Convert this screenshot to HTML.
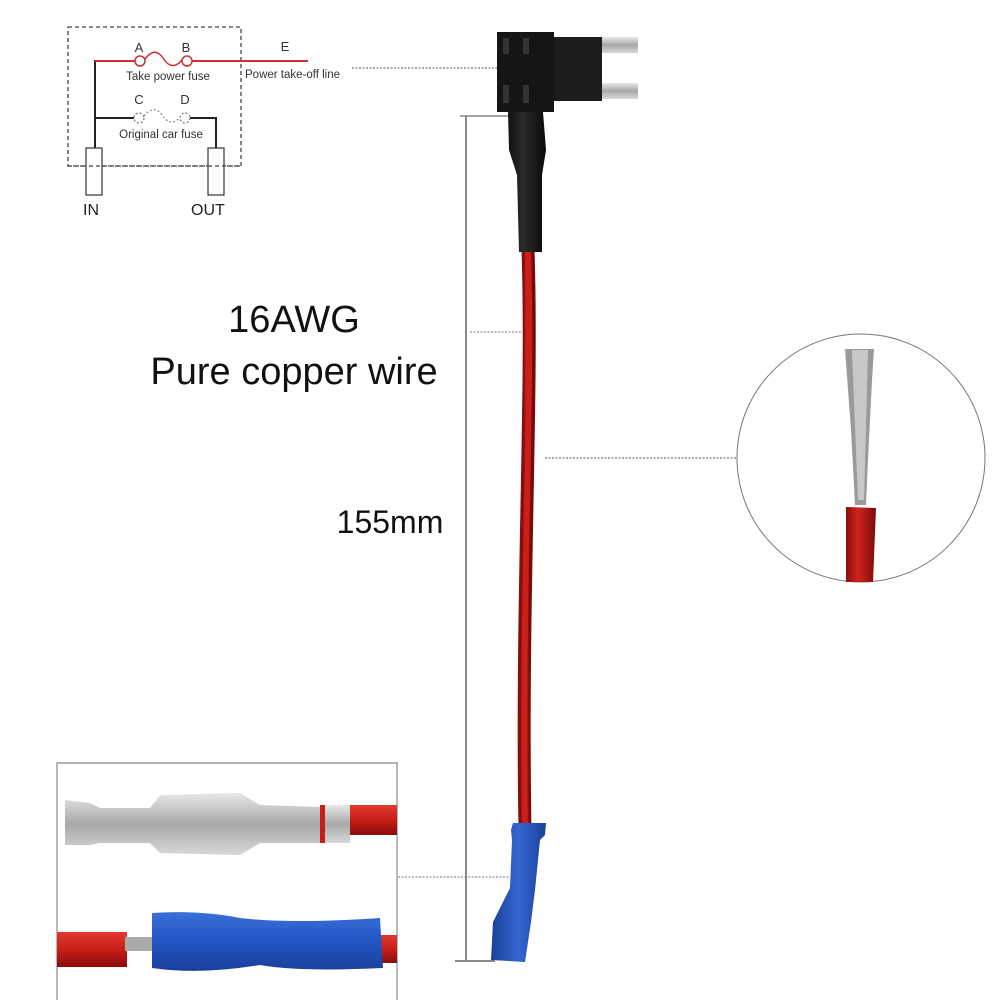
<!DOCTYPE html>
<html><head><meta charset="utf-8"><style>
html,body{margin:0;padding:0;background:#fff;}
svg{display:block;font-family:"Liberation Sans",sans-serif;}
</style></head><body>
<svg width="1000" height="1000" viewBox="0 0 1000 1000" xmlns="http://www.w3.org/2000/svg">
<defs>
<linearGradient id="blk" x1="0" x2="1"><stop offset="0" stop-color="#111"/><stop offset="0.4" stop-color="#2a2a2a"/><stop offset="1" stop-color="#0a0a0a"/></linearGradient>
<linearGradient id="red" x1="0" x2="1"><stop offset="0" stop-color="#8a0d0d"/><stop offset="0.4" stop-color="#d0231c"/><stop offset="1" stop-color="#7a0a0a"/></linearGradient>
<linearGradient id="silv" x1="0" y1="0" x2="0" y2="1"><stop offset="0" stop-color="#e8e8e8"/><stop offset="0.5" stop-color="#a8a8a8"/><stop offset="1" stop-color="#d8d8d8"/></linearGradient>
<linearGradient id="blu" x1="0" y1="0" x2="0" y2="1"><stop offset="0" stop-color="#3a6fd8"/><stop offset="0.5" stop-color="#2456c4"/><stop offset="1" stop-color="#1a3f9a"/></linearGradient>
<linearGradient id="bluv" x1="0" x2="1"><stop offset="0" stop-color="#1a3f9a"/><stop offset="0.5" stop-color="#3466d0"/><stop offset="1" stop-color="#1a3f9a"/></linearGradient>
<linearGradient id="redh" x1="0" y1="0" x2="0" y2="1"><stop offset="0" stop-color="#e03a30"/><stop offset="0.5" stop-color="#c81e18"/><stop offset="1" stop-color="#8a0d0d"/></linearGradient>
</defs>

<!-- schematic -->
<rect x="68" y="27" width="173" height="139" fill="none" stroke="#444" stroke-width="1.3" stroke-dasharray="4,3"/>
<polyline points="95,148 95,61 135,61" fill="none" stroke="#222" stroke-width="2"/>
<line x1="95" y1="61" x2="135" y2="61" stroke="#d03030" stroke-width="2"/>
<circle cx="140" cy="61" r="5" fill="#fff" stroke="#d03030" stroke-width="1.5"/>
<path d="M145,59 Q155,46 163,58 Q172,72 182,60" fill="none" stroke="#d03030" stroke-width="1.5"/>
<circle cx="187" cy="61" r="5" fill="#fff" stroke="#d03030" stroke-width="1.5"/>
<line x1="192" y1="61" x2="308" y2="61" stroke="#d03030" stroke-width="2"/>
<text x="139" y="52" font-size="13" text-anchor="middle" fill="#333">A</text>
<text x="186" y="52" font-size="13" text-anchor="middle" fill="#333">B</text>
<text x="285" y="51" font-size="13" text-anchor="middle" fill="#333">E</text>
<text x="168" y="80" font-size="11.5" text-anchor="middle" fill="#333">Take power fuse</text>
<text x="245" y="78" font-size="11.5" fill="#333">Power take-off line</text>
<line x1="95" y1="118" x2="134" y2="118" stroke="#222" stroke-width="2"/>
<circle cx="139" cy="118" r="5" fill="#fff" stroke="#777" stroke-width="1.2" stroke-dasharray="2,2"/>
<path d="M144,116 Q154,104 162,115 Q171,128 180,117" fill="none" stroke="#888" stroke-width="1.2" stroke-dasharray="2,2"/>
<circle cx="185" cy="118" r="5" fill="#fff" stroke="#777" stroke-width="1.2" stroke-dasharray="2,2"/>
<polyline points="190,118 216,118 216,148" fill="none" stroke="#222" stroke-width="2"/>
<text x="139" y="104" font-size="13" text-anchor="middle" fill="#333">C</text>
<text x="185" y="104" font-size="13" text-anchor="middle" fill="#333">D</text>
<text x="161" y="138" font-size="11.5" text-anchor="middle" fill="#333">Original car fuse</text>
<rect x="86" y="148" width="16" height="47" fill="#fff" stroke="#333" stroke-width="1.2"/>
<rect x="208" y="148" width="16" height="47" fill="#fff" stroke="#333" stroke-width="1.2"/>
<line x1="68" y1="166" x2="241" y2="166" stroke="#444" stroke-width="1.3" stroke-dasharray="4,3"/>
<text x="83" y="215" font-size="16" fill="#222">IN</text>
<text x="191" y="215" font-size="16" fill="#222">OUT</text>

<!-- dotted leaders -->
<line x1="352" y1="68" x2="497" y2="68" stroke="#555" stroke-width="1" stroke-dasharray="2,1.5"/>
<line x1="470" y1="332" x2="524" y2="332" stroke="#777" stroke-width="1" stroke-dasharray="2,1.5"/>
<line x1="545" y1="458" x2="737" y2="458" stroke="#555" stroke-width="1" stroke-dasharray="2,1.5"/>
<line x1="398" y1="877" x2="510" y2="877" stroke="#777" stroke-width="1" stroke-dasharray="2,1.5"/>

<!-- measure line -->
<line x1="466" y1="116" x2="466" y2="960" stroke="#888" stroke-width="2"/>
<line x1="460" y1="116" x2="510" y2="116" stroke="#888" stroke-width="1.5"/>
<line x1="455" y1="961" x2="495" y2="961" stroke="#888" stroke-width="2"/>

<!-- texts -->
<text x="294" y="332" font-size="38" text-anchor="middle" fill="#111">16AWG</text>
<text x="294" y="384" font-size="38" text-anchor="middle" fill="#111">Pure copper wire</text>
<text x="390" y="533" font-size="32" text-anchor="middle" fill="#111">155mm</text>

<!-- fuse tap -->
<rect x="600" y="37" width="38" height="16" fill="url(#silv)"/>
<rect x="600" y="83" width="38" height="16" fill="url(#silv)"/>
<rect x="550" y="37" width="52" height="64" fill="#1c1c1c"/>
<rect x="497" y="32" width="57" height="80" fill="#151515"/>
<rect x="503" y="38" width="6" height="16" fill="#333"/><rect x="523" y="38" width="6" height="16" fill="#333"/>
<rect x="503" y="85" width="6" height="18" fill="#333"/><rect x="523" y="85" width="6" height="18" fill="#333"/>
<!-- red wire -->
<path d="M528,250 C533,400 521,600 525,830" fill="none" stroke="url(#red)" stroke-width="13"/>
<path d="M528,250 C533,400 521,600 525,830" fill="none" stroke="#c62018" stroke-width="6"/>
<!-- black sleeve -->
<path d="M508,112 L543,112 L546,150 L542,175 L542,252 L519,252 L517,175 L509,150 Z" fill="url(#blk)"/>
<!-- blue connector -->
<path d="M513,823 L546,823 L545,835 L540,840 L535,890 L531,922 L525,962 L491,960 L493,922 L510,888 L512,840 L511,830 Z" fill="url(#bluv)"/>

<!-- magnifier circle -->
<circle cx="861" cy="458" r="124" fill="#fff" stroke="#777" stroke-width="1"/>
<path d="M845,349 L874,349 L872,380 L868,460 L866,505 L855,505 L851,430 Z" fill="#9a9a9a"/>
<path d="M852,350 L868,350 L864,500 L858,500 Z" fill="#c8c8c8"/>
<path d="M846,507 L876,508 L873,582 L846,582 Z" fill="url(#red)"/>

<!-- bottom-left inset -->
<polyline points="57,1000 57,763 397,763 397,1000" fill="none" stroke="#888" stroke-width="1.2"/>
<rect x="322" y="805" width="75" height="30" fill="url(#redh)"/>
<path d="M65,800 L90,803 L100,808 L150,808 L160,795 L240,793 L260,805 L320,807 L320,843 L260,843 L240,855 L160,853 L150,843 L100,843 L90,845 L65,845 Z" fill="url(#silv)"/>
<rect x="325" y="805" width="25" height="38" fill="url(#silv)"/>
<rect x="320" y="805" width="5" height="38" fill="#c81e18"/>
<rect x="57" y="932" width="70" height="35" fill="url(#redh)"/>
<rect x="125" y="937" width="30" height="14" fill="#aaa"/>
<rect x="370" y="935" width="27" height="28" fill="url(#redh)"/>
<path d="M152,913 Q200,910 240,918 Q290,924 380,918 L383,968 Q300,972 260,965 Q200,975 152,968 Z" fill="url(#blu)"/>
</svg>
</body></html>
